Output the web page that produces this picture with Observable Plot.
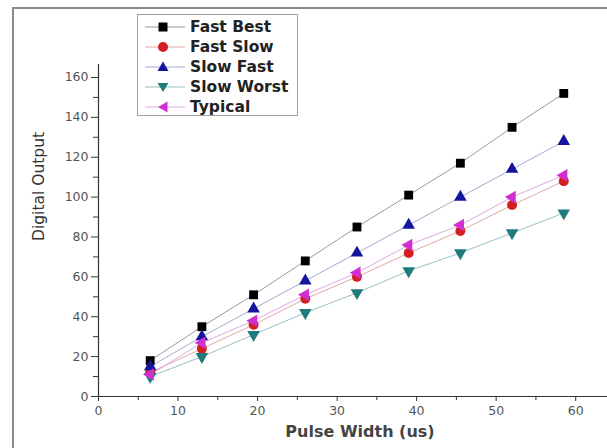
<!DOCTYPE html>
<html><head><meta charset="utf-8">
<script src="https://cdn.jsdelivr.net/npm/d3@7"></script>
<script src="https://cdn.jsdelivr.net/npm/@observablehq/plot@0.6"></script>
<style>
html,body{margin:0;padding:0;background:#fff;}
#wrap{position:relative;width:607px;height:448px;overflow:hidden;font-family:"DejaVu Sans",sans-serif;}
#frame{position:absolute;left:12px;top:7px;width:620px;height:460px;border:2px solid #8a8a8a;box-sizing:border-box;}
#chart{position:absolute;left:0;top:0;}
#legend{position:absolute;left:137px;top:14px;width:161px;height:102px;border:1px solid #a0a0a0;background:#fff;box-sizing:border-box;}
.row{position:absolute;left:0;height:20px;display:flex;align-items:center;}
.row svg{width:50px;height:20px;flex:none;}
.row span{font-family:"DejaVu Sans",sans-serif;font-weight:bold;font-size:15.5px;color:#222;margin-left:2px;white-space:nowrap;}
</style></head>
<body><div id="wrap"><div id="frame"></div><div id="chart"></div><div id="legend"></div></div>
<script>
const pulseWidth = [6.5, 13, 19.5, 26, 32.5, 39, 45.5, 52, 58.5];
const seriesNames = ["Fast Best", "Fast Slow", "Slow Fast", "Slow Worst", "Typical"];
const fastBest  = [18, 35, 51, 68, 85, 101, 117, 135, 152];
const fastSlow  = [12, 24, 36, 49, 60, 72, 83, 96, 108];
const slowFast  = [15, 30, 44, 58, 72, 86, 100, 114, 128];
const slowWorst = [10, 20, 31, 42, 52, 63, 72, 82, 92];
const typical   = [11, 27, 38, 51, 62, 76, 86, 100, 111];
const xTicks = [0, 10, 20, 30, 40, 50, 60];
const yTicks = [0, 20, 40, 60, 80, 100, 120, 140, 160];

const values = [fastBest, fastSlow, slowFast, slowWorst, typical];
const colors = ["#000000", "#d42020", "#14149c", "#207c7c", "#d030d0"];
const lineColors = ["#9a9a9a", "#e0a8a8", "#a8a8d0", "#98c0c0", "#e0a8e0"];
const symbols = ["square", "circle", "triangle2", "triangle2", "triangle2"];
const rotations = [0, 0, 0, 180, -90];
const sizes = [5, 5, 6, 6, 6];

const data = [];
seriesNames.forEach((s, i) => values[i].forEach((v, j) => data.push({series: s, x: pulseWidth[j], y: v, i})));

const marks = [];
seriesNames.forEach((s, i) => {
  const d = data.filter(r => r.series === s);
  marks.push(Plot.line(d, {x: "x", y: "y", stroke: lineColors[i], strokeWidth: 1}));
});
seriesNames.forEach((s, i) => {
  const d = data.filter(r => r.series === s);
  marks.push(Plot.dot(d, {x: "x", y: "y", symbol: () => symbols[i], r: sizes[i], fill: colors[i], stroke: "none", rotate: rotations[i]}));
});

const chart = Plot.plot({
  width: 607, height: 448,
  marginLeft: 98, marginRight: 0, marginTop: 64, marginBottom: 52,
  style: {fontFamily: "DejaVu Sans, sans-serif", background: "transparent"},
  x: {domain: [0, 64]},
  y: {domain: [0, 166.5]},
  symbol: {type: "identity"},
  marks: [
    Plot.ruleY([0], {stroke: "#333", strokeWidth: 1.2}),
    Plot.ruleX([0], {stroke: "#333", strokeWidth: 1.2}),
    Plot.axisX({ticks: xTicks, tickSize: 5, tickPadding: 5, fontSize: 12.5, fill: "#555", stroke: "#333", label: null}),
    Plot.axisX({ticks: d3.range(5, 65, 10), tickSize: 4, text: null, stroke: "#333", label: null}),
    Plot.axisY({ticks: yTicks, tickSize: 7, tickPadding: 3, fontSize: 12.5, fill: "#555", stroke: "#333", label: null}),
    Plot.axisY({ticks: d3.range(10, 170, 20), tickSize: 5, text: null, stroke: "#333", label: null}),
    Plot.text(["Pulse Width (us)"], {frameAnchor: "bottom", dx: 7, dy: 40, fontSize: 16, fontWeight: "bold", fill: "#444"}),
    Plot.text(["Digital Output"], {y: () => 78, frameAnchor: "left", dx: -59, rotate: -90, fontSize: 15.5, fill: "#333"}),
    ...marks
  ]
});
document.getElementById("chart").appendChild(chart);

const legend = document.getElementById("legend");
const legendSvgSym = (i) => {
  const c = colors[i];
  let shape;
  if (i === 0) shape = `<rect x="20.5" y="5.5" width="9" height="9" fill="${c}"/>`;
  else if (i === 1) shape = `<circle cx="25" cy="10" r="5" fill="${c}"/>`;
  else if (i === 2) shape = `<path d="M25,4.5 L30.5,14 L19.5,14 Z" fill="${c}"/>`;
  else if (i === 3) shape = `<path d="M25,15 L30.5,6 L19.5,6 Z" fill="${c}"/>`;
  else shape = `<path d="M20,10 L29.5,4.5 L29.5,15.5 Z" fill="${c}"/>`;
  return `<svg viewBox="0 0 50 20"><line x1="7" y1="10" x2="47" y2="10" stroke="${lineColors[i]}" stroke-width="1"/>${shape}</svg>`;
};
seriesNames.forEach((s, i) => {
  const row = document.createElement("div");
  row.className = "row";
  row.style.top = (2 + i * 20) + "px";
  row.innerHTML = legendSvgSym(i) + `<span>${s}</span>`;
  legend.appendChild(row);
});
</script>
</body></html>
